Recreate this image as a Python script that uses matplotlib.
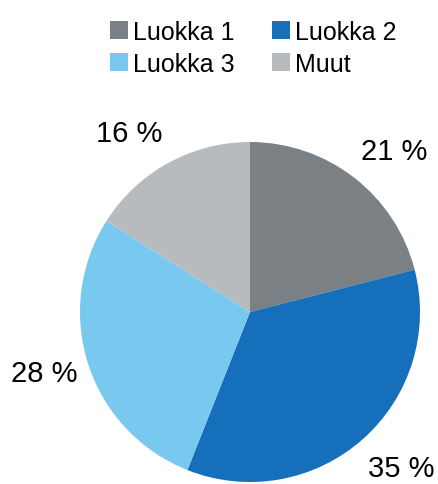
"""
Pie chart: share by class (Luokka 1-3, Muut)
"""

import matplotlib
matplotlib.use("Agg")
import matplotlib.pyplot as plt
from matplotlib.patches import Patch

plt.rcParams["font.family"] = ["Liberation Sans", "DejaVu Sans"]

categories = ["Luokka 1", "Luokka 2", "Luokka 3", "Muut"]
shares = [21, 35, 28, 16]
colors = ["#7a8083", "#156fba", "#78c8ef", "#b8bbbe"]

# label anchor points (axes data units, pie radius = 1)
label_xy = [(0.85, 0.95), (0.89, -0.92), (-1.21, -0.36), (-0.71, 1.05)]

fig = plt.figure(figsize=(4.38, 4.85), dpi=100)
ax = fig.add_axes([80 / 438, 2 / 485, 340 / 438, 340 / 485])

wedges, texts, autotexts = ax.pie(
    shares,
    colors=colors,
    startangle=90,
    counterclock=False,
    autopct=lambda p: f"{p:.0f} %",
    pctdistance=1.27,
    wedgeprops=dict(linewidth=0),
    textprops=dict(fontsize=21, color="black"),
)
for t, xy in zip(autotexts, label_xy):
    t.set_position(xy)
ax.set_xlim(-1, 1)
ax.set_ylim(-1, 1)
ax.set_aspect("equal")

# matplotlib fills legend column-wise; reorder so rows read L1, L2 / L3, Muut
order = [0, 2, 1, 3]
handles = [Patch(facecolor=colors[i], edgecolor="none") for i in order]
labels = [categories[i] for i in order]
fig.legend(
    handles, labels,
    loc="upper left",
    bbox_to_anchor=(110 / 438, 1 - 21 / 485),
    ncol=2,
    frameon=False,
    fontsize=18,
    handlelength=0.72,
    handleheight=0.72,
    handletextpad=0.2,
    columnspacing=1.5,
    labelspacing=0.3,
    borderpad=0,
    borderaxespad=0,
)

fig.savefig("out.png", dpi=100)
plt.close(fig)
